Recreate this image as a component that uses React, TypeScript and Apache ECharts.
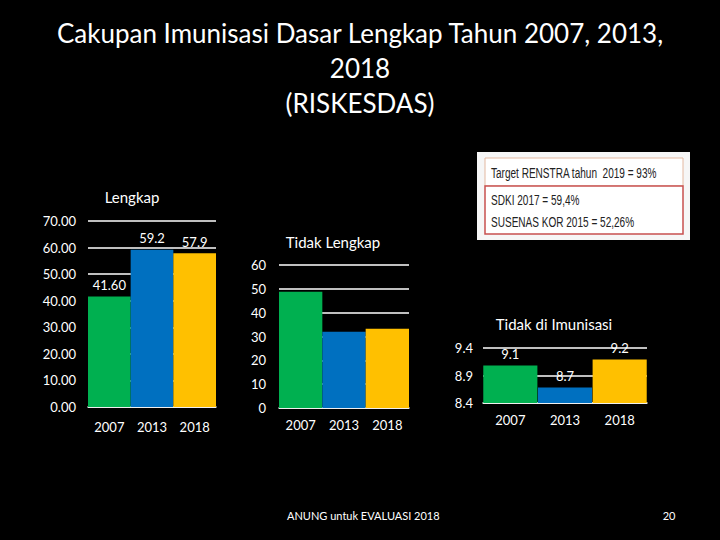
import React, { useEffect, useRef } from "react";
import * as echarts from "echarts";

const years = ["2007", "2013", "2018"];
const barColors = ["#00B050", "#0070C0", "#FFC000"];
const lengkapValues = [41.6, 59.2, 57.9];
const lengkapLabels = ["41.60", "59.2", "57.9"];
const tidakLengkapValues = [48.8, 32.0, 33.2];
const tidakImunValues = [9.08, 8.68, 9.19];
const tidakImunLabels = ["9.1", "8.7", "9.2"];
const titleLines = ["Cakupan Imunisasi Dasar Lengkap Tahun 2007, 2013,", "2018", "(RISKESDAS)"];
const panelTitles = ["Lengkap", "Tidak Lengkap", "Tidak di Imunisasi"];
const noteLines = ["Target RENSTRA tahun  2019 = 93%", "SDKI 2017 = 59,4%", "SUSENAS KOR 2015 = 52,26%"];
const footerText = "ANUNG untuk EVALUASI 2018";
const pageNumber = "20";

const FONT = "Lato, 'Open Sans', sans-serif";
const NOTE_FONT = "'Liberation Sans', Arial, sans-serif";

export default function App() {
  const ref = useRef<HTMLDivElement>(null);
  useEffect(() => {
    if (!ref.current) return;
    const chart = echarts.init(ref.current, undefined, { renderer: "svg" });
    const axisLabel = { color: "#fff", fontSize: 13, fontFamily: FONT };
    const split = { show: true, lineStyle: { color: "#fff", width: 1.5 } };
    const mkX = (gridIndex: number, margin: number) => ({
      type: "category" as const,
      gridIndex,
      data: years,
      axisLine: { show: true, lineStyle: { color: "#fff", width: 1.5 } },
      axisTick: { show: false },
      axisLabel: { ...axisLabel, margin },
    });
    const mkData = (vals: number[]) =>
      vals.map((v, i) => ({ value: v, itemStyle: { color: barColors[i] } }));
    const labelCfg = (labels: string[]) => ({
      show: true,
      position: "top" as const,
      distance: 5,
      color: "#fff",
      fontSize: 13,
      fontFamily: FONT,
      formatter: (p: any) => labels[p.dataIndex],
    });
    const titleTexts = titleLines.map((t, i) => ({
      type: "text",
      x: 360,
      y: 33 + i * 35,
      style: { text: t, fill: "#fff", fontSize: 26, fontFamily: FONT, align: "center", verticalAlign: "middle" },
    }));
    const noteTexts = noteLines.map((t, i) => ({
      type: "text",
      x: 491,
      y: [173, 200, 222][i],
      scaleX: 0.67,
      style: { text: t, fill: "#222", fontSize: 15, fontFamily: NOTE_FONT, verticalAlign: "middle" },
    }));
    chart.setOption({
      animation: false,
      backgroundColor: "#000",
      grid: [
        { left: 88, top: 221, width: 128, height: 186 },
        { left: 279, top: 265, width: 130, height: 143 },
        { left: 483, top: 348, width: 164, height: 55 },
      ],
      xAxis: [mkX(0, 13), mkX(1, 10), mkX(2, 10)],
      yAxis: [
        {
          type: "value", gridIndex: 0, min: 0, max: 70, interval: 10,
          axisLine: { show: false }, axisTick: { show: false }, splitLine: split,
          axisLabel: { ...axisLabel, margin: 12, formatter: (v: number) => v.toFixed(2) },
        },
        {
          type: "value", gridIndex: 1, min: 0, max: 60, interval: 10,
          axisLine: { show: false }, axisTick: { show: false }, splitLine: split,
          axisLabel: { ...axisLabel, margin: 13 },
        },
        {
          type: "value", gridIndex: 2, min: 8.4, max: 9.4, interval: 0.5,
          axisLine: { show: false }, axisTick: { show: false }, splitLine: split,
          axisLabel: { ...axisLabel, margin: 10, formatter: (v: number) => v.toFixed(1) },
        },
      ],
      series: [
        {
          type: "bar", xAxisIndex: 0, yAxisIndex: 0, barCategoryGap: "0%",
          data: mkData(lengkapValues), label: labelCfg(lengkapLabels),
        },
        {
          type: "bar", xAxisIndex: 1, yAxisIndex: 1, barCategoryGap: "0%",
          data: mkData(tidakLengkapValues),
        },
        {
          type: "bar", xAxisIndex: 2, yAxisIndex: 2, barCategoryGap: "1%",
          data: mkData(tidakImunValues), label: labelCfg(tidakImunLabels),
        },
      ],
      graphic: [
        ...titleTexts,
        { type: "text", x: 132, y: 197, style: { text: panelTitles[0], fill: "#fff", fontSize: 15, fontFamily: FONT, align: "center", verticalAlign: "middle" } },
        { type: "text", x: 333, y: 242, style: { text: panelTitles[1], fill: "#fff", fontSize: 15, fontFamily: FONT, align: "center", verticalAlign: "middle" } },
        { type: "text", x: 554, y: 324, style: { text: panelTitles[2], fill: "#fff", fontSize: 15, fontFamily: FONT, align: "center", verticalAlign: "middle" } },
        { type: "rect", shape: { x: 477, y: 152, width: 213, height: 88 }, style: { fill: "#f6f6f6" } },
        { type: "rect", shape: { x: 485, y: 158, width: 198, height: 28 }, style: { fill: "#fff", stroke: "#e3b8a0", lineWidth: 1 } },
        { type: "rect", shape: { x: 485, y: 186, width: 198, height: 48 }, style: { fill: "#fff", stroke: "#c8504f", lineWidth: 1.5 } },
        ...noteTexts,
        { type: "text", x: 287, y: 515, style: { text: footerText, fill: "#fff", fontSize: 11, fontFamily: FONT, verticalAlign: "middle" } },
        { type: "text", x: 669, y: 515, style: { text: pageNumber, fill: "#fff", fontSize: 11, fontFamily: FONT, align: "center", verticalAlign: "middle" } },
      ],
    });
    return () => chart.dispose();
  }, []);
  return (
    <div
      ref={ref}
      style={{ position: "absolute", left: 0, top: 0, width: 720, height: 540, background: "#000" }}
    />
  );
}
